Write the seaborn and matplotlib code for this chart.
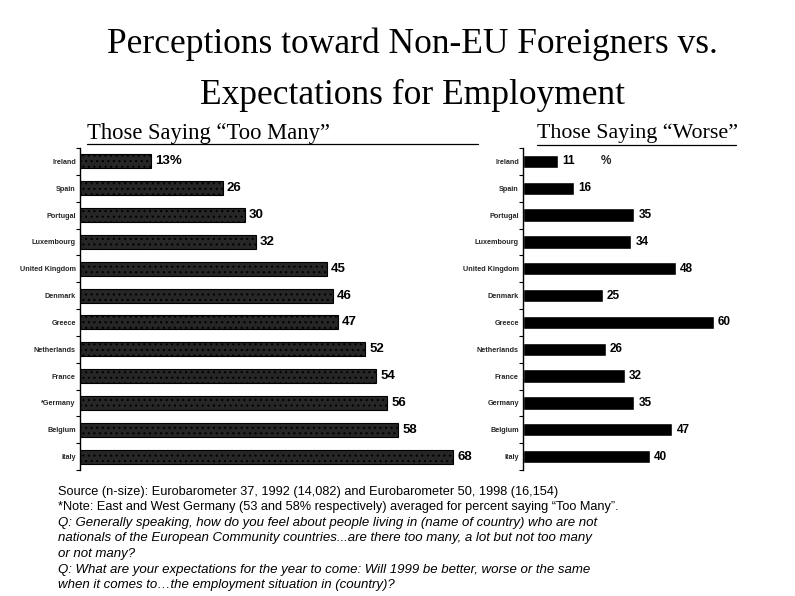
import matplotlib
matplotlib.use("Agg")
import matplotlib.pyplot as plt
import seaborn as sns
import pandas as pd
from matplotlib import font_manager

sns.set_theme(style="white")
plt.rcParams["font.family"] = ["Liberation Sans", "DejaVu Sans"]
plt.rcParams["hatch.color"] = "#e6e6e6"
plt.rcParams["hatch.linewidth"] = 0.8

# Share of respondents saying there are "too many" non-EU foreigners (%)
too_many_countries = ["Ireland", "Spain", "Portugal", "Luxembourg", "United Kingdom",
                      "Denmark", "Greece", "Netherlands", "France", "*Germany",
                      "Belgium", "Italy"]
too_many_values = [13, 26, 30, 32, 45, 46, 47, 52, 54, 56, 58, 68]

# Share expecting the employment situation to get "worse" (%)
worse_countries = ["Ireland", "Spain", "Portugal", "Luxembourg", "United Kingdom",
                   "Denmark", "Greece", "Netherlands", "France", "Germany",
                   "Belgium", "Italy"]
worse_values = [11, 16, 35, 34, 48, 25, 60, 26, 32, 35, 47, 40]

title_lines = ["Perceptions toward Non-EU Foreigners vs.", "Expectations for Employment"]
left_heading = "Those Saying \u201cToo Many\u201d"
right_heading = "Those Saying \u201cWorse\u201d"

# (text, style, vertical pixel position)
footnotes = [
    ("Source (n-size): Eurobarometer 37, 1992 (14,082) and Eurobarometer 50, 1998 (16,154)", "normal", 492),
    ("*Note: East and West Germany (53 and 58% respectively) averaged for percent saying \u201cToo Many\u201d.", "normal", 507),
    ("Q: Generally speaking, how do you feel about people living in (name of country) who are not", "italic", 523),
    ("nationals of the European Community countries...are there too many, a lot but not too many", "italic", 538),
    ("or not many?", "italic", 554),
    ("Q: What are your expectations for the year to come: Will 1999 be better, worse or the same", "italic", 570),
    ("when it comes to\u2026the employment situation in (country)?", "italic", 585),
]

installed = {f.name for f in font_manager.fontManager.ttflist}
if "Liberation Sans Narrow" in installed:
    label_family, label_size = ["Liberation Sans Narrow", "DejaVu Sans"], 6.3
elif "DejaVu Sans Condensed" in installed:
    label_family, label_size = ["DejaVu Sans Condensed", "DejaVu Sans"], 5.6
else:
    label_family, label_size = ["Liberation Sans", "DejaVu Sans"], 5.2

W, H = 795, 596
fig = plt.figure(figsize=(W / 100, H / 100), dpi=100)
fig.patch.set_facecolor("white")


def fx(px):
    return px / W


def fy(py):
    return 1 - py / H


serif = ["Liberation Serif", "DejaVu Serif"]

# Title
fig.text(fx(412), fy(44), title_lines[0], ha="center", va="center",
         family=serif, fontsize=25.5, color="black")
fig.text(fx(412), fy(95), title_lines[1], ha="center", va="center",
         family=serif, fontsize=25.5, color="black")

# Panel headings with underlines
fig.text(fx(87), fy(133), left_heading, ha="left", va="center",
         family=serif, fontsize=16.3, color="black")
fig.add_artist(plt.Line2D([fx(87), fx(478)], [fy(144), fy(144)], color="black", lw=0.9))
fig.text(fx(537), fy(133), right_heading, ha="left", va="center",
         family=serif, fontsize=15.8, color="black")
fig.add_artist(plt.Line2D([fx(537), fx(736)], [fy(145), fy(145)], color="black", lw=0.9))

df_left = pd.DataFrame({"country": too_many_countries, "pct": too_many_values})
df_right = pd.DataFrame({"country": worse_countries, "pct": worse_values})

top_px, bot_px = 148, 470
ax_l = fig.add_axes([fx(80), fy(bot_px), fx(75 * 5.49), (bot_px - top_px) / H])
ax_r = fig.add_axes([fx(523), fy(bot_px), fx(75 * 3.18), (bot_px - top_px) / H])

sns.barplot(data=df_left, x="pct", y="country", orient="h", ax=ax_l,
            color="#262626", width=0.52, saturation=1)
for p in ax_l.patches:
    p.set_hatch("...")
    p.set_edgecolor("black")
    p.set_linewidth(0.8)

sns.barplot(data=df_right, x="pct", y="country", orient="h", ax=ax_r,
            color="black", width=0.5, saturation=1)

left_labels = [f"{v}%" if i == 0 else f"{v}" for i, v in enumerate(too_many_values)]
ax_l.bar_label(ax_l.containers[0], labels=left_labels, padding=3,
               fontsize=9.5, fontweight="bold", color="black")
ax_r.bar_label(ax_r.containers[0], labels=[str(v) for v in worse_values], padding=3,
               fontsize=8.5, fontweight="bold", color="black")
ax_r.text(24.5, 0, "%", ha="left", va="center", fontsize=8.5, fontweight="bold")

for ax in (ax_l, ax_r):
    ax.set_xlim(0, 75)
    ax.set_ylim(11.5, -0.5)
    ax.set_xlabel("")
    ax.set_ylabel("")
    ax.set_xticks([])
    ax.set_facecolor("none")
    for side in ("top", "right", "bottom"):
        ax.spines[side].set_visible(False)
    ax.spines["left"].set_color("black")
    ax.spines["left"].set_linewidth(1.0)
    ax.tick_params(axis="y", which="major", length=0, pad=3)
    ax.set_yticks([i + 0.5 for i in range(-1, 12)], minor=True)
    ax.tick_params(axis="y", which="minor", length=3, width=0.8, color="black", left=True)
    for lab in ax.get_yticklabels():
        lab.set_fontsize(label_size)
        lab.set_fontweight("bold")
        lab.set_family(label_family)

# Footnotes
for txt, style, y in footnotes:
    fig.text(fx(58), fy(y), txt, ha="left", va="center",
             fontsize=9.2 if style == "normal" else 9.5, style=style, color="black",
             family=["Liberation Sans", "DejaVu Sans"])

fig.savefig("out.png", dpi=100, facecolor="white")
